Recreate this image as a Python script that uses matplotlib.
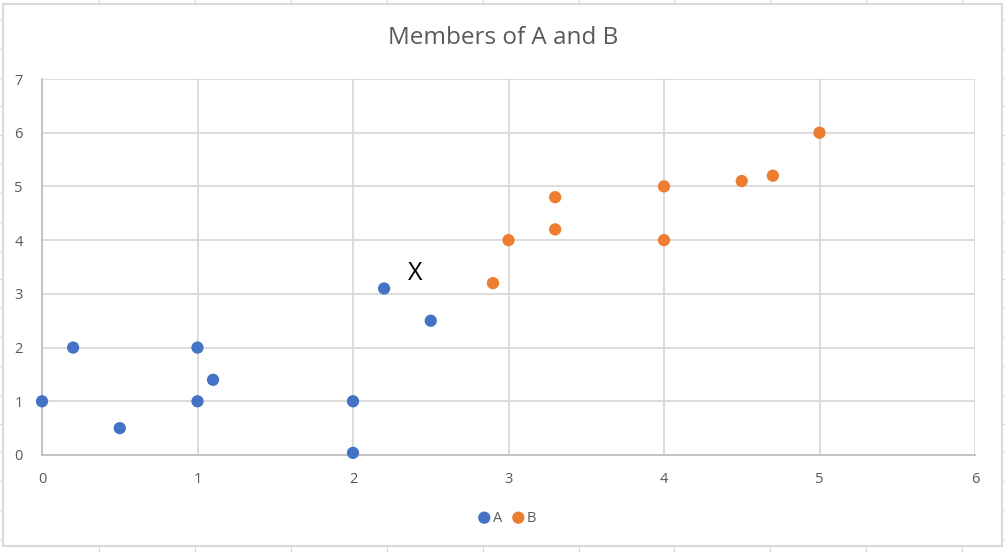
#!/usr/bin/env python3

import matplotlib
matplotlib.use('Agg')
from matplotlib import pyplot as plt
from matplotlib.patches import Rectangle
from matplotlib.lines import Line2D
import numpy as np

# data
A_X = [0, 0.2, 0.5, 1, 1, 1.1, 2, 2, 2.2, 2.5]
A_Y = [1, 2, 0.5, 1, 2, 1.4, 1, 0.04, 3.1, 2.5]

B_X = [2.9, 3, 3.3, 3.3, 4, 4, 4.5, 4.7, 5]
B_Y = [3.2, 4, 4.8, 4.2, 5, 4, 5.1, 5.2, 6]

X_TICKS = [0, 1, 2, 3, 4, 5, 6]
Y_TICKS = [0, 1, 2, 3, 4, 5, 6, 7]

TITLE = 'Members of A and B'
NOTE = 'X'
NOTE_POS = (2.4, 3.38)

COLOR_A = '#4472C4'
COLOR_B = '#ED7D31'
COLOR_GRID = '#D9D9D9'
COLOR_AXIS = '#BFBFBF'
COLOR_TEXT = '#595959'
COLOR_CELL = '#DADADA'

W, H = 1005, 552

plt.rcParams['font.family'] = ['Open Sans', 'DejaVu Sans']

fig = plt.figure(figsize=(W / 100, H / 100), dpi=100)


def fx(px):
    return px / W


def fy(py):
    return 1 - py / H


# spreadsheet cells behind the chart
for px in np.arange(99, W, 95.9):
    fig.add_artist(Line2D([fx(px), fx(px)], [0, 1], color=COLOR_CELL, lw=0.8,
                          transform=fig.transFigure, zorder=-3))
for py in np.arange(20, H, 28.83):
    fig.add_artist(Line2D([0, 1], [fy(py), fy(py)], color=COLOR_CELL, lw=0.8,
                          transform=fig.transFigure, zorder=-3))

# chart area
fig.add_artist(Rectangle((fx(3), fy(546)), fx(1001.5) - fx(3), fy(4) - fy(546),
                         facecolor='white', edgecolor=COLOR_GRID, lw=1.5,
                         transform=fig.transFigure, zorder=-2))

ax = fig.add_axes([fx(42), fy(455), fx(975) - fx(42), fy(79) - fy(455)])
ax.set_facecolor('white')
ax.set_zorder(1)

ax.scatter(A_X, A_Y, s=78, color=COLOR_A, edgecolors='none', zorder=3,
           clip_on=False, label='A')
ax.scatter(B_X, B_Y, s=78, color=COLOR_B, edgecolors='none', zorder=3,
           clip_on=False, label='B')

ax.text(NOTE_POS[0], NOTE_POS[1], NOTE, fontsize=18, color='black',
        ha='center', va='center', zorder=4)

ax.set_xlim(X_TICKS[0], X_TICKS[-1])
ax.set_ylim(Y_TICKS[0], Y_TICKS[-1])
ax.set_xticks(X_TICKS)
ax.set_yticks(Y_TICKS)
ax.grid(True, color=COLOR_GRID, lw=1.3, zorder=0)
ax.set_axisbelow(True)

for side in ['top', 'right']:
    ax.spines[side].set_visible(False)
for side in ['left', 'bottom']:
    ax.spines[side].set_color(COLOR_AXIS)
    ax.spines[side].set_linewidth(1.3)

ax.tick_params(length=0, labelsize=10.5, labelcolor=COLOR_TEXT)
ax.tick_params(axis='x', pad=12)
ax.tick_params(axis='y', pad=14)

fig.text(fx(503), fy(38), TITLE, fontsize=17.5, color=COLOR_TEXT,
         ha='center', va='center')

fig.legend(handles=ax.collections, labels=['A', 'B'], loc='center',
           bbox_to_anchor=(fx(506), fy(518)), ncol=2, frameon=False,
           fontsize=10.5, labelcolor=COLOR_TEXT, handletextpad=0.0,
           columnspacing=0.5, handlelength=1.2)

fig.savefig('out.png', dpi=100)
